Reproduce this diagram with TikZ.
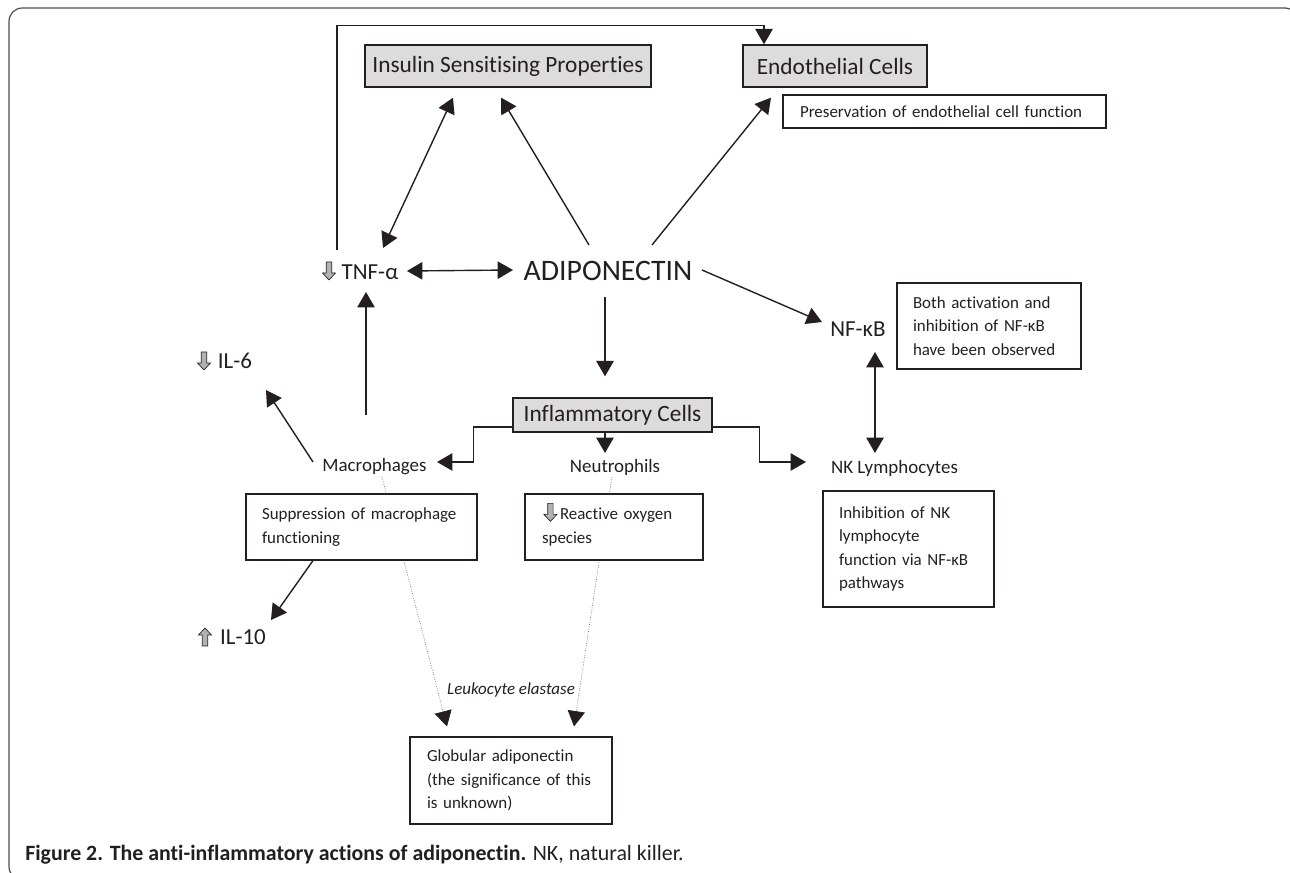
\documentclass[tikz,border=0pt]{standalone}
\usepackage{fontspec}
\setmainfont{Carlito}[Ligatures=NoCommon]
\usetikzlibrary{positioning,arrows.meta,calc,backgrounds}
\definecolor{figink}{RGB}{35,31,32}
\definecolor{figbox}{RGB}{220,220,220}
\definecolor{figdot}{RGB}{110,110,110}
\tikzset{
  hdr/.style={draw=figink,fill=figbox,line width=1pt,inner sep=0pt,minimum height=31.5pt,text=figink,font=\fontsize{17.5}{21}\selectfont},
  note/.style={draw=figink,fill=white,line width=0.9pt,align=left,inner ysep=0pt,text=figink,font=\fontsize{12.7}{17.6}\selectfont},
  lbl/.style={inner sep=0pt,text=figink,font=\fontsize{17.2}{20}\selectfont},
  cell/.style={inner sep=0pt,text=figink,font=\fontsize{14.2}{17}\selectfont},
  arr/.style={draw=figink,line width=1.05pt,-{Triangle[length=11.5pt,width=13pt]}},
  dbl/.style={draw=figink,line width=1.05pt,{Triangle[length=11.5pt,width=13pt]}-{Triangle[length=11.5pt,width=13pt]}},
  dots/.style={draw=figdot,line width=0.5pt,dash pattern=on 0.6pt off 1.2pt,-{Triangle[length=11.5pt,width=13pt,color=figink]}},
  dnarr/.pic={\draw[fill=gray!60,draw=figink,line width=0.5pt] (-2.7,-9) -- (2.7,-9) -- (2.7,2) -- (6.5,2) -- (0,9) -- (-6.5,2) -- (-2.7,2) -- cycle;},
  uparr/.pic={\draw[fill=gray!60,draw=figink,line width=0.5pt] (-2.7,9) -- (2.7,9) -- (2.7,-2) -- (6.5,-2) -- (0,-9) -- (-6.5,-2) -- (-2.7,-2) -- cycle;}
}
\begin{document}
\begin{tikzpicture}[x=0.75pt,y=-0.75pt]
  \useasboundingbox (0,0) rectangle (1290,873);
  \begin{scope}
    \clip (0,0) rectangle (1290,873);
    \draw[figink!80,line width=0.9pt,rounded corners=10pt] (9,8) rectangle (1298,880);
  \end{scope}
  \node[hdr,minimum width=214.5pt] (ins) at (508,66) {Insulin Sensitising Properties};
  \node[hdr,minimum width=138pt] (endo) at (835,66) {Endothelial Cells};
  \node[hdr,minimum width=149.25pt,minimum height=25.5pt] (infl) at (612.5,415) {Inflammatory Cells};
  \node[lbl] (tnf) at (370,272) {TNF-α};
  \node[inner sep=0pt,text=figink,font=\fontsize{22.3}{26}\selectfont] (adipo) at (608,271) {ADIPONECTIN};
  \node[lbl] (nfkb) at (858,329) {NF-κB};
  \node[lbl] (il6) at (235,361) {IL-6};
  \node[lbl] (il10) at (243,637) {IL-10};
  \node[cell] (macro) at (374.5,467) {Macrophages};
  \node[cell] (neut) at (615,467) {Neutrophils};
  \node[cell] (nk) at (894.5,468) {NK Lymphocytes};
  \node[note,minimum height=24.75pt,text width=216.75pt,inner xsep=12.75pt] (pres) at (944.5,111.5) {Preservation of endothelial cell function};
  \node[note,minimum height=64.5pt,text width=114pt,inner xsep=12pt] (both) at (989,326) {Both activation and\\inhibition of NF-κB\\have been observed};
  \node[note,minimum height=87pt,text width=104.25pt,inner xsep=12pt] (inhib) at (908.5,549) {Inhibition of NK\\lymphocyte\\function via NF-κB\\pathways};
  \node[note,minimum height=49.5pt,text width=149.25pt,inner xsep=12pt] (supp) at (361.5,527) {Suppression of macrophage\\functioning};
  \node[note,minimum height=49.5pt,text width=108pt,inner xsep=12.75pt] (ros) at (614,527) {\hspace*{13.5pt}Reactive oxygen\\species};
  \node[note,minimum height=65.25pt,text width=126pt,inner xsep=12.75pt] (glob) at (511,780.5) {Globular adiponectin\\(the significance of this\\is unknown)};
  \node[inner sep=0pt,text=figink,font=\fontsize{12.7}{15}\selectfont\itshape] (leuk) at (511,690) {Leukocyte elastase};
  \node[anchor=west,inner sep=0pt,text=figink,font=\fontsize{16.4}{19}\selectfont] (cap) at (25,855) {\textbf{Figure 2. The anti-inflammatory actions of adiponectin.} NK, natural killer.};
  \pic at ($(tnf)+(-41,-1)$) {dnarr};
  \pic at ($(il6)+(-31,0)$) {dnarr};
  \pic at ($(il10)+(-38,0)$) {uparr};
  \pic at ($(ros.north west)+(26,19)$) {dnarr};
  \draw[arr] ($(tnf)+(-33,-22)$) |- ($(endo.north)+(-71,-19)$) -- ($(endo.north)+(-71,0)$);
  \draw[dbl] ($(tnf)+(13,-24)$) -- ($(ins.south)+(-55,10)$);
  \draw[dbl] ($(tnf)+(37,-1)$) -- ($(adipo)+(-95,-1)$);
  \draw[arr] ($(adipo)+(-19,-26)$) -- ($(ins.south)+(-7,10)$);
  \draw[arr] ($(adipo)+(44,-26)$) -- ($(endo.south)+(-64,10)$);
  \draw[arr] ($(adipo)+(94,-1)$) -- ($(nfkb)+(-36,-7)$);
  \draw[dbl] ($(nfkb)+(17,23)$) -- ($(nk)+(-19.5,-15)$);
  \draw[arr] ($(adipo)+(-3,26)$) -- ($(infl.north)+(-7.5,-21)$);
  \draw[arr] ($(infl.south)+(-7.5,0)$) -- ($(neut)+(-10,-14)$);
  \draw[arr] ($(infl.west)+(0,12)$) -| ++(-39,35) -- ($(macro)+(62.5,-5)$);
  \draw[arr] ($(infl.east)+(0,12)$) -| ++(47,35) -- ($(nk)+(-88.5,-6)$);
  \draw[arr] ($(macro)+(-8.5,-52)$) -- ($(tnf)+(-4,20)$);
  \draw[arr] ($(macro)+(-61.5,-5)$) -- ($(il6)+(31,29)$);
  \draw[arr] ($(supp.south)+(-48.5,0)$) -- ($(il10)+(28,-17)$);
  \begin{pgfonlayer}{background}
    \draw[dots] ($(macro)+(7.5,10)$) -- ($(glob.north)+(-64,-10)$);
    \draw[dots] ($(neut)+(-3,10)$) -- ($(glob.north)+(63,-10)$);
  \end{pgfonlayer}
\end{tikzpicture}
\end{document}
